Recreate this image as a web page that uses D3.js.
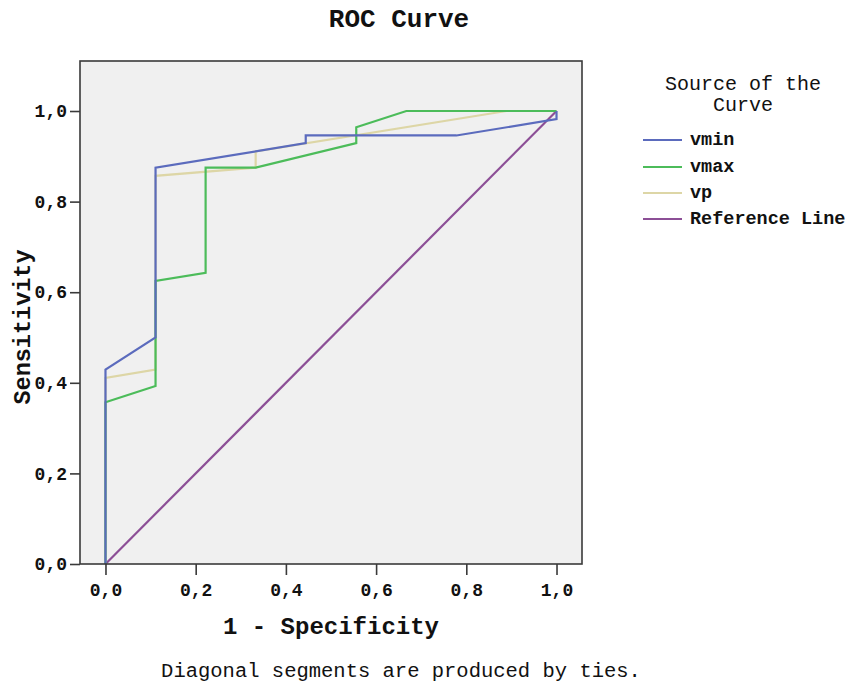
<!DOCTYPE html>
<html><head><meta charset="utf-8">
<script src="https://cdn.jsdelivr.net/npm/d3@7"></script>
<style>
html,body{margin:0;padding:0;background:#fff;}
text{font-family:"Liberation Mono","DejaVu Sans Mono",monospace;fill:#111;}
</style></head>
<body>
<svg id="c" width="847" height="684"></svg>
<script>
// Data (1 - Specificity, Sensitivity)
const vminFpr = [0, 0, 0.111, 0.111, 0.444, 0.444, 0.778, 1.0, 1.0];
const vminTpr = [0, 0.429, 0.500, 0.875, 0.929, 0.946, 0.946, 0.982, 1.0];
const vmaxFpr = [0, 0, 0.111, 0.111, 0.222, 0.222, 0.333, 0.556, 0.556, 0.667, 1.0];
const vmaxTpr = [0, 0.357, 0.393, 0.625, 0.643, 0.875, 0.875, 0.929, 0.964, 1.0, 1.0];
const vpFpr = [0, 0, 0.111, 0.111, 0.333, 0.333, 0.889, 1.0];
const vpTpr = [0, 0.411, 0.429, 0.857, 0.875, 0.911, 1.0, 1.0];
const refFpr = [0, 1];
const refTpr = [0, 1];
const seriesNames = ["vmin", "vmax", "vp", "Reference Line"];
const seriesColors = ["#5b6bbd", "#4cbc5a", "#ddd6a6", "#8c4f96"];
const tickValues = [0, 0.2, 0.4, 0.6, 0.8, 1.0];

const series = [
  {name: seriesNames[0], x: vminFpr, y: vminTpr, color: seriesColors[0]},
  {name: seriesNames[1], x: vmaxFpr, y: vmaxTpr, color: seriesColors[1]},
  {name: seriesNames[2], x: vpFpr, y: vpTpr, color: seriesColors[2]},
  {name: seriesNames[3], x: refFpr, y: refTpr, color: seriesColors[3]}
];

const svg = d3.select("#c");
const L = 80, R = 582, T = 61, B = 564;
const x = d3.scaleLinear().domain([-0.0565, 1.0565]).range([L, R]);
const y = d3.scaleLinear().domain([0, 1.1104]).range([B, T]);
const fmt = d => d3.format(".1f")(d).replace(".", ",");

// plot background
svg.append("rect").attr("x", L).attr("y", T).attr("width", R - L).attr("height", B - T)
  .attr("fill", "#f0f0f0");

// lines
const line = d3.line().x(d => x(d[0])).y(d => y(d[1]));
// draw order: reference, vp, vmax, vmin
[3, 2, 1, 0].forEach(i => {
  const s = series[i];
  const pts = s.x.map((v, k) => [v, s.y[k]]);
  svg.append("path").attr("d", line(pts)).attr("fill", "none")
    .attr("stroke", s.color).attr("stroke-width", 2.2).attr("stroke-linejoin", "miter");
});

// frame
svg.append("rect").attr("x", L).attr("y", T).attr("width", R - L).attr("height", B - T)
  .attr("fill", "none").attr("stroke", "#3a3a3a").attr("stroke-width", 1.6);

// axes
const xAxis = d3.axisBottom(x).tickValues(tickValues).tickFormat(fmt).tickSize(11).tickPadding(8);
const yAxis = d3.axisLeft(y).tickValues(tickValues).tickFormat(fmt).tickSize(10).tickPadding(3);
const gx = svg.append("g").attr("transform", `translate(0,${B})`).call(xAxis);
const gy = svg.append("g").attr("transform", `translate(${L},0)`).call(yAxis);
[gx, gy].forEach(g => {
  g.select(".domain").remove();
  g.selectAll(".tick line").attr("stroke", "#3a3a3a").attr("stroke-width", 1.6);
  g.selectAll(".tick text").attr("font-family", "Liberation Mono").attr("font-weight", "bold")
    .attr("font-size", 18).attr("fill", "#111");
});

// titles
svg.append("text").attr("x", 399).attr("y", 27).attr("text-anchor", "middle")
  .attr("font-size", 26).attr("font-weight", "bold").text("ROC Curve");
svg.append("text").attr("x", 331).attr("y", 634).attr("text-anchor", "middle")
  .attr("font-size", 24).attr("font-weight", "bold").text("1 - Specificity");
svg.append("text").attr("transform", "translate(30,327) rotate(-90)").attr("text-anchor", "middle")
  .attr("font-size", 23.5).attr("font-weight", "bold").text("Sensitivity");
svg.append("text").attr("x", 401).attr("y", 677).attr("text-anchor", "middle")
  .attr("font-size", 20.5).text("Diagonal segments are produced by ties.");

// legend
svg.append("text").attr("x", 743).attr("y", 90).attr("text-anchor", "middle")
  .attr("font-size", 20).text("Source of the");
svg.append("text").attr("x", 743).attr("y", 111).attr("text-anchor", "middle")
  .attr("font-size", 20).text("Curve");
const legY = [140, 167, 193, 219];
series.forEach((s, i) => {
  svg.append("line").attr("x1", 643).attr("x2", 682).attr("y1", legY[i]).attr("y2", legY[i])
    .attr("stroke", s.color).attr("stroke-width", 2.2);
  svg.append("text").attr("x", 690).attr("y", legY[i] + 5).attr("font-size", 18.5)
    .attr("font-weight", "bold").text(s.name);
});
</script>
</body></html>
